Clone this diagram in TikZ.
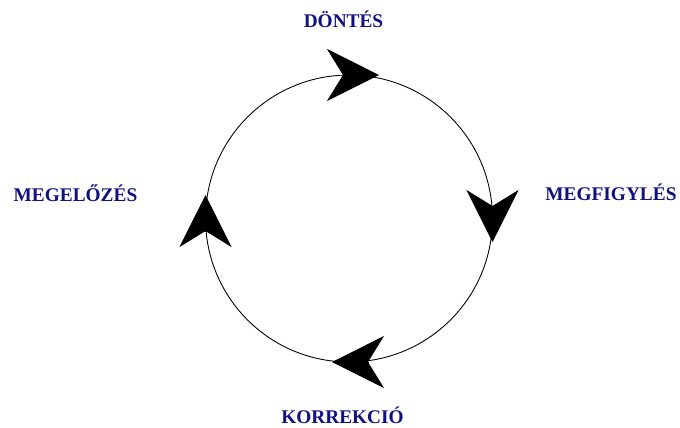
\documentclass[tikz,border=0pt]{standalone}
\usepackage{fontspec}
\setmainfont{Liberation Serif}
\usetikzlibrary{arrows.meta}

\definecolor{cimkekek}{RGB}{16,16,128}

\tikzset{
  cimke/.style={font=\fontsize{11}{13}\selectfont\bfseries, text=cimkekek, anchor=base, inner sep=0pt},
  fej/.style={-{Stealth[length=1.04cm, width=1.04cm, inset=0.32cm]}}
}

\begin{document}
\begin{tikzpicture}[x=0.02cm, y=-0.02cm]
    \useasboundingbox (0, 0) rectangle (680, 427);

    % Cycle
    \coordinate (kozep) at (349, 218.5);
    \draw[line width=0.5pt] (kozep) circle [radius=2.87cm];

    % Arrow heads (clockwise)
    \coordinate (fent) at (379, 75);
    \coordinate (jobb) at (492.5, 242);
    \coordinate (lent) at (332, 362);
    \coordinate (bal) at (205.5, 195);
    \draw[fej] (343, 75) -- (fent);
    \draw[fej] (492.5, 206) -- (jobb);
    \draw[fej] (368, 362) -- (lent);
    \draw[fej] (205.5, 231) -- (bal);

    % Labels
    \node[cimke] (dontes) at (343.5, 27) {DÖNTÉS};
    \node[cimke] (megfigyeles) at (611, 200) {MEGFIGYLÉS};
    \node[cimke] (korrekcio) at (342.5, 423) {KORREKCIÓ};
    \node[cimke] (megelozes) at (75.5, 201) {MEGELŐZÉS};
\end{tikzpicture}
\end{document}
